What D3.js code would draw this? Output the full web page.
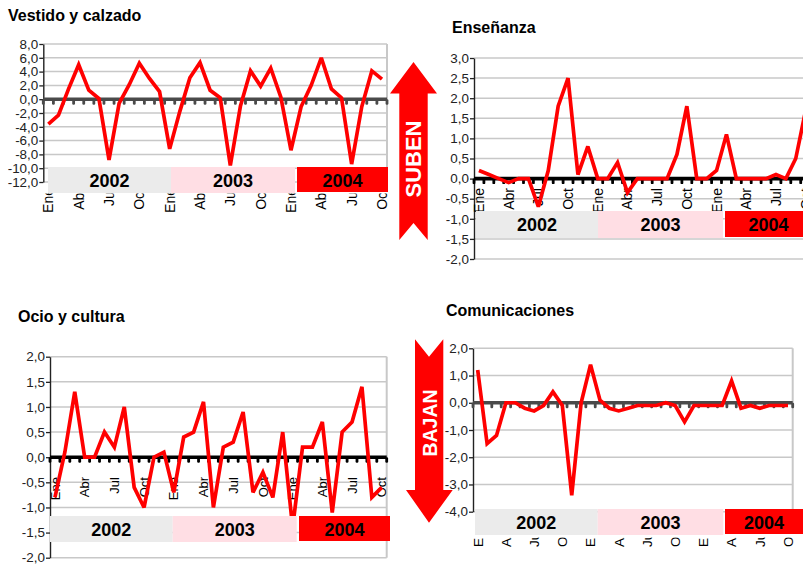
<!DOCTYPE html>
<html><head><meta charset="utf-8">
<script src="https://cdn.jsdelivr.net/npm/d3@7"></script>
<style>body{margin:0;background:#fff}svg{display:block}text{font-family:"Liberation Sans",Arial,sans-serif}</style>
</head><body><svg id="c" width="803" height="580"></svg>
<script>
// ---- data ----
const categories = [
 "Ene 2002","Feb 2002","Mar 2002","Abr 2002","May 2002","Jun 2002","Jul 2002","Ago 2002","Sep 2002","Oct 2002","Nov 2002","Dic 2002",
 "Ene 2003","Feb 2003","Mar 2003","Abr 2003","May 2003","Jun 2003","Jul 2003","Ago 2003","Sep 2003","Oct 2003","Nov 2003","Dic 2003",
 "Ene 2004","Feb 2004","Mar 2004","Abr 2004","May 2004","Jun 2004","Jul 2004","Ago 2004","Sep 2004","Oct 2004"];
const years = ["2002","2003","2004"];
const vestido = [-3.6,-2.3,1.5,5.0,1.3,0.1,-8.8,-0.6,2.1,5.2,3.0,1.1,-7.2,-1.8,3.1,5.3,1.3,0.2,-9.6,-1.0,4.1,1.9,4.5,0.3,-7.4,-1.1,2.0,6.0,1.5,0.2,-9.4,-1.1,4.1,2.9];
const ensenanza = [0.2,0.1,0.0,-0.1,0.0,0.0,-0.7,0.2,1.8,2.5,0.1,0.8,0.0,0.0,0.4,-0.35,0.0,0.0,0.0,0.0,0.6,1.8,0.0,0.0,0.2,1.1,0.0,0.0,0.0,0.0,0.1,0.0,0.5,1.7];
const ocio = [-0.8,0.1,1.3,0.0,0.0,0.5,0.2,1.0,-0.6,-1.0,0.0,0.1,-0.7,0.4,0.5,1.1,-1.0,0.2,0.3,0.9,-0.7,-0.3,-0.8,0.5,-1.4,0.2,0.2,0.7,-1.1,0.5,0.7,1.4,-0.8,-0.6];
const comunicaciones = [1.2,-1.5,-1.2,0.0,0.0,-0.2,-0.3,-0.1,0.4,-0.1,-3.4,0.0,1.4,0.1,-0.2,-0.3,-0.2,-0.1,-0.1,-0.1,0.0,-0.1,-0.7,-0.1,-0.1,-0.1,-0.1,0.8,-0.2,-0.1,-0.2,-0.1,-0.1,-0.1];
const titles = ["Vestido y calzado","Enseñanza","Ocio y cultura","Comunicaciones"];
const yDomains = [[-12,8],[-2,3],[-2,2],[-4,2]];
const yStepsArr = [2,0.5,0.5,1];

// ---- layout ----
const layouts = [
 {tx:8,ty:21,x0:43.3,x1:387,yTop:44,yBot:182,zc:"#4a4a4a",bandY:167,bandH:26,
  boxes:[[48,171],[171,295],[297,388]],lab:{mode:"end",y:188,fs:14,clip:193.5}},
 {tx:452,ty:33,x0:474,x1:810.6,yTop:58,yBot:259,zc:"#000",bandY:211,bandH:27,
  boxes:[[476,598],[598,723],[725,812]],lab:{mode:"end",y:188,fs:14,clip:null}},
 {tx:18,ty:321.5,x0:50,x1:386.7,yTop:356.7,yBot:557.7,zc:"#000",bandY:516,bandH:26,
  boxes:[[50,172.7],[172.7,296.7],[299,390]],lab:{mode:"end",y:477,fs:13,clip:null}},
 {tx:446,ty:316,x0:473,x1:792.7,yTop:348.3,yBot:511.7,zc:"#4a4a4a",bandY:509,bandH:26,
  boxes:[[475,597.7],[597.7,723.3],[725,803]],lab:{mode:"start",y:547,fs:13.5,clip:537.5}}
];
const series = [vestido, ensenanza, ocio, comunicaciones];
const boxFill = ["#ebebeb","#ffdee4","#ff0000"];

const fmt = d3.formatLocale({decimal:",",thousands:".",grouping:[3],currency:["","€"],minus:"-"}).format(".1f");
const svg = d3.select("#c");
svg.append("rect").attr("width",803).attr("height",580).attr("fill","#fff");
const defs = svg.append("defs");

series.forEach((vals,p)=>{
  const L = layouts[p];
  const g = svg.append("g");
  const y = d3.scaleLinear().domain(yDomains[p]).range([L.yBot,L.yTop]);
  const x = d3.scaleBand().domain(d3.range(categories.length)).range([L.x0,L.x1]).padding(0);
  const bw = x.bandwidth();
  const step = yStepsArr[p];
  const tv = d3.range(yDomains[p][0], yDomains[p][1]+step/2, step).map(v=>+v.toFixed(2));

  // gridlines
  g.append("g").selectAll("line").data(tv).join("line")
    .attr("x1",L.x0).attr("x2",L.x1).attr("y1",d=>y(d)).attr("y2",d=>y(d))
    .attr("stroke","#c8c8c8").attr("stroke-width",1.5);
  g.append("line").attr("x1",L.x1).attr("x2",L.x1).attr("y1",L.yTop).attr("y2",L.yBot)
    .attr("stroke","#c8c8c8").attr("stroke-width",2);

  // y axis
  const ax = g.append("g").attr("transform",`translate(${L.x0},0)`)
    .call(d3.axisLeft(y).tickValues(tv).tickFormat(fmt).tickSize(4).tickSizeOuter(0));
  ax.attr("font-family",null).attr("font-size",null);
  ax.select(".domain").attr("stroke","#222").attr("stroke-width",1.4);
  ax.selectAll(".tick line").attr("stroke","#222").attr("stroke-width",1.3);
  ax.selectAll(".tick text").attr("x",0).attr("dy","0.35em")
    .attr("transform","translate(-5,0) scale(1.12,1)")
    .attr("font-size","12px").attr("fill","#222");

  // x labels
  let lg = g.append("g");
  if (L.lab.clip!==null){
    const id="clip"+p;
    defs.append("clipPath").attr("id",id).append("rect")
      .attr("x",0).attr("y",L.lab.clip).attr("width",803).attr("height",580-L.lab.clip);
    lg.attr("clip-path",`url(#${id})`);
  }
  const labIdx = d3.range(categories.length).filter(i=>i%3===0);
  lg.selectAll("text").data(labIdx).join("text")
    .attr("x",i=>x(i)+bw/2).attr("y",L.lab.y)
    .attr("transform",i=>`rotate(-90,${x(i)+bw/2},${L.lab.y})`)
    .attr("dy","0.36em")
    .attr("text-anchor",L.lab.mode)
    .attr("font-size",L.lab.fs+"px").attr("fill","#000")
    .text(i=>categories[i].split(" ")[0]);

  // zero line with category ticks
  const y0 = y(0);
  g.append("line").attr("x1",L.x0).attr("x2",L.x1).attr("y1",y0).attr("y2",y0)
    .attr("stroke",L.zc).attr("stroke-width",3.6);
  const bounds = d3.range(categories.length).map(i=>x(i)).concat([L.x1]);
  g.append("g").selectAll("rect").data(bounds).join("rect")
    .attr("x",d=>d-1.4).attr("y",y0).attr("width",2.8).attr("height",5.5).attr("rx",1.2)
    .attr("fill",L.zc);

  // series line
  g.append("path").datum(vals)
    .attr("d",d3.line().x((d,i)=>x(i)+bw/2).y(d=>y(d)))
    .attr("fill","none").attr("stroke","#ff0000").attr("stroke-width",3.7)
    .attr("stroke-linejoin","miter").attr("stroke-miterlimit",3);

  // year bands
  const bg = g.append("g");
  years.forEach((yr,k)=>{
    const [a,b] = L.boxes[k];
    const h = k===2 ? L.bandH-1 : L.bandH;
    bg.append("rect").attr("x",a).attr("y",L.bandY).attr("width",b-a).attr("height",h).attr("fill",boxFill[k]);
    bg.append("text").attr("x",(a+b)/2).attr("y",L.bandY+L.bandH/2+6.5)
      .attr("text-anchor","middle").attr("font-size","18px").attr("font-weight","bold").attr("fill","#000")
      .text(yr);
  });

  // title
  g.append("text").attr("x",L.tx).attr("y",L.ty).attr("font-size","16px").attr("font-weight","bold")
    .attr("fill","#000").text(titles[p]);
});

// arrows
const up = d3.path();
up.moveTo(413.5,62); up.lineTo(437,93.5); up.lineTo(427.7,93.5); up.lineTo(427.7,240);
up.lineTo(413.5,223); up.lineTo(399.3,240); up.lineTo(399.3,93.5); up.lineTo(390,93.5); up.closePath();
svg.append("path").attr("d",up.toString()).attr("fill","#ff0000");
svg.append("text").attr("x",413.5).attr("y",159).attr("transform","rotate(-90,413.5,159)")
  .attr("dy","0.36em").attr("text-anchor","middle").attr("font-size","22px").attr("font-weight","bold")
  .attr("fill","#fff").text("SUBEN");

const dn = d3.path();
dn.moveTo(415,339.3); dn.lineTo(429,356.7); dn.lineTo(443.3,339.3); dn.lineTo(443.3,490);
dn.lineTo(452.7,490); dn.lineTo(429,522.7); dn.lineTo(406,490); dn.lineTo(415,490); dn.closePath();
svg.append("path").attr("d",dn.toString()).attr("fill","#ff0000");
svg.append("text").attr("x",429).attr("y",423).attr("transform","rotate(-90,429,423)")
  .attr("dy","0.36em").attr("text-anchor","middle").attr("font-size","21px").attr("font-weight","bold")
  .attr("fill","#fff").attr("textLength",67).attr("lengthAdjust","spacingAndGlyphs").text("BAJAN");
</script></body></html>
